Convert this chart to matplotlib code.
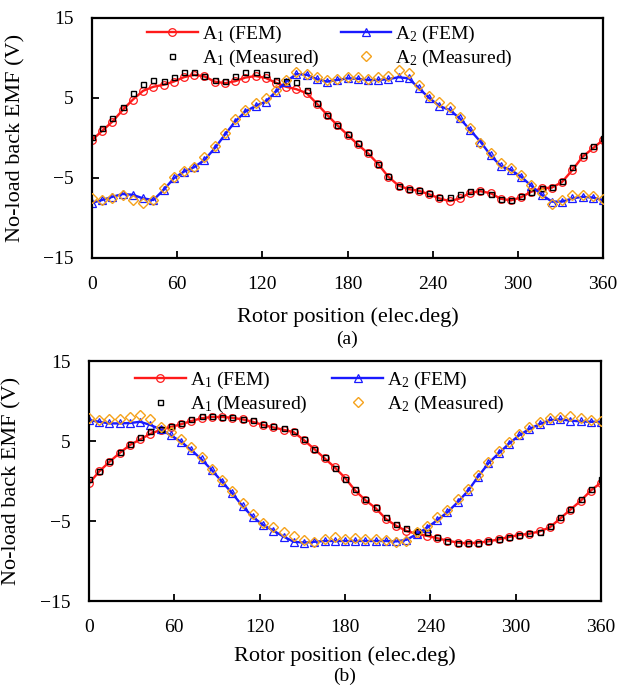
import numpy as np
import matplotlib
matplotlib.use("Agg")
import matplotlib.pyplot as plt

plt.rcParams["font.family"] = ["Liberation Serif", "DejaVu Serif"]
plt.rcParams["mathtext.fontset"] = "custom"
plt.rcParams["mathtext.rm"] = "Liberation Serif"
plt.rcParams["mathtext.it"] = "Liberation Serif:italic"

# Rotor position samples (elec. deg)
angle = np.linspace(0, 360, 51)

# ---- (a) back EMF, phase A1 / A2 ----
a_A1_fem = [-0.25, 0.9, 2.05, 3.5, 4.8, 5.9, 6.4, 6.65, 7.05, 7.6, 7.9, 7.7, 7.05,
            6.85, 7.1, 7.55, 7.75, 7.5, 6.9, 6.4, 6.1, 5.6, 4.3, 2.9, 1.6, 0.4,
            -0.8, -1.9, -3.25, -4.85, -5.95, -6.4, -6.6, -7.05, -7.55, -7.9, -7.55,
            -6.85, -6.65, -6.9, -7.6, -7.8, -7.4, -6.7, -6.3, -6.2, -5.5, -4.0,
            -2.35, -1.3, -0.25]
a_A1_meas = [0.1, 1.2, 2.5, 3.9, 5.6, 6.7, 7.2, 7.15, 7.6, 8.3, 8.3, 7.7, 7.3,
             7.15, 7.7, 8.3, 8.3, 8.0, 7.3, 7.15, 7.05, 6.0, 4.35, 2.9, 1.6, 0.45,
             -0.65, -1.8, -3.2, -4.75, -6.0, -6.35, -6.5, -6.85, -7.4, -7.4, -7.0,
             -6.6, -6.6, -7.0, -7.65, -7.75, -7.3, -6.7, -6.2, -6.1, -5.4, -3.6,
             -2.15, -1.0, 0.05]
a_A2_fem = [-8.1, -7.75, -7.35, -7.0, -7.1, -7.55, -7.75, -6.5, -5.05, -4.2, -3.65,
            -2.75, -1.3, 0.4, 2.05, 3.3, 4.0, 4.55, 5.8, 7.05, 8.0, 7.9, 7.35, 7.05,
            7.25, 7.45, 7.4, 7.25, 7.25, 7.35, 7.6, 7.45, 6.2, 5.0, 4.0, 3.5, 2.45,
            1.0, -0.45, -2.15, -3.5, -4.0, -4.85, -6.0, -7.1, -7.95, -7.95, -7.55,
            -7.35, -7.45, -7.75]
a_A2_meas = [-7.55, -7.75, -7.45, -7.1, -7.75, -8.1, -7.75, -6.2, -4.9, -4.1, -3.6,
             -2.35, -1.0, 0.6, 2.35, 3.5, 4.35, 5.0, 6.0, 7.25, 8.2, 8.0, 7.6, 7.25,
             7.35, 7.6, 7.6, 7.4, 7.6, 7.75, 8.5, 8.1, 6.65, 5.25, 4.55, 3.85, 2.65,
             1.2, -0.6, -1.9, -3.15, -3.8, -4.65, -5.9, -6.9, -8.2, -7.75, -7.1,
             -7.1, -7.25, -7.65]

# ---- (b) back EMF, phase A1 / A2 ----
b_A1_fem = [-0.3, 1.2, 2.4, 3.5, 4.5, 5.2, 5.9, 6.4, 6.75, 7.1, 7.5, 7.85, 8.0,
            8.0, 7.9, 7.7, 7.4, 7.0, 6.7, 6.4, 6.1, 5.1, 4.0, 2.85, 1.7, 0.4,
            -1.2, -2.4, -3.4, -4.75, -5.6, -6.25, -6.6, -6.85, -7.15, -7.45, -7.7,
            -7.8, -7.7, -7.55, -7.3, -7.0, -6.75, -6.6, -6.3, -5.8, -4.7, -3.6,
            -2.5, -1.2, -0.2]
b_A1_meas = [0.2, 1.3, 2.5, 3.6, 4.6, 5.5, 6.2, 6.5, 6.9, 7.3, 7.7, 8.15, 8.1,
             8.05, 8.0, 7.8, 7.6, 7.1, 6.85, 6.6, 6.2, 5.2, 4.0, 2.95, 1.6, 0.2,
             -1.0, -2.3, -3.2, -4.5, -5.4, -5.9, -6.2, -6.35, -7.0, -7.55, -7.75,
             -7.75, -7.7, -7.5, -7.2, -7.0, -6.7, -6.55, -6.35, -5.6, -4.5, -3.5,
             -2.3, -1.0, 0.2]
b_A2_fem = [7.6, 7.4, 7.2, 7.2, 7.25, 7.4, 7.0, 6.45, 5.7, 4.9, 3.85, 2.7, 1.35,
            -0.1, -1.55, -3.15, -4.5, -5.5, -6.2, -6.95, -7.6, -7.7, -7.6, -7.5,
            -7.5, -7.5, -7.5, -7.5, -7.5, -7.5, -7.55, -7.35, -6.65, -5.85, -4.9,
            -3.9, -2.65, -1.25, 0.55, 2.2, 3.45, 4.65, 5.7, 6.5, 7.1, 7.6, 7.7,
            7.55, 7.45, 7.4, 7.4]
b_A2_meas = [7.9, 7.6, 7.7, 7.75, 8.0, 8.2, 7.8, 6.7, 6.15, 5.3, 4.2, 2.95, 1.45,
             0.1, -1.2, -2.75, -4.15, -5.2, -5.8, -6.35, -6.9, -7.4, -7.6, -7.2,
             -7.05, -7.2, -7.1, -7.2, -7.3, -7.35, -7.6, -7.45, -6.4, -5.6, -4.55,
             -3.6, -2.3, -0.95, 0.8, 2.4, 3.7, 4.85, 5.9, 6.7, 7.35, 7.85, 8.05,
             8.1, 7.9, 7.6, 7.45]

x_ticks = [0, 60, 120, 180, 240, 300, 360]
y_ticks = [-15, -5, 5, 15]
x_label = "Rotor position (elec.deg)"
y_label = "No-load back EMF (V)"

RED = "#ff1a1a"
BLUE = "#1a1aff"
ORANGE = "#f5a21b"

fig = plt.figure(figsize=(6.2, 6.86), dpi=100)
ax_a = fig.add_axes([92 / 620, 1 - 258 / 686, 511 / 620, 240 / 686])
ax_b = fig.add_axes([89 / 620, 1 - 601 / 686, 512 / 620, 240 / 686])


def draw_panel(ax, a1_fem, a1_meas, a2_fem, a2_meas, leg_anchor, colspace, xpad):
    l1, = ax.plot(angle, a1_fem, color=RED, lw=1.7, marker="o", ms=5.5,
                  mfc="none", mec=RED, mew=0.9, label=r"A$_1$ (FEM)", zorder=2)
    l2, = ax.plot(angle, a2_fem, color=BLUE, lw=1.7, marker="^", ms=6,
                  mfc="none", mec=BLUE, mew=0.9, label=r"A$_2$ (FEM)", zorder=2)
    m1, = ax.plot(angle, a1_meas, ls="none", marker="s", ms=3.6, mfc="none",
                  mec="black", mew=1.0, label=r"A$_1$ (Measured)", zorder=3)
    m2, = ax.plot(angle, a2_meas, ls="none", marker="D", ms=4.6, mfc="none",
                  mec=ORANGE, mew=1.0, label=r"A$_2$ (Measured)", zorder=3)
    ax.set_xlim(0, 360)
    ax.set_ylim(-15, 15)
    ax.set_xticks(x_ticks)
    ax.set_yticks(y_ticks)
    ax.tick_params(direction="in", length=5, width=1.3, labelsize=14,
                   top=False, right=False)
    ax.tick_params(axis="x", pad=13)
    ax.tick_params(axis="y", pad=13)
    for s in ax.spines.values():
        s.set_linewidth(1.6)
    ax.set_xlabel(x_label, fontsize=16, labelpad=xpad)
    ax.set_ylabel(y_label, fontsize=16)
    ax.yaxis.set_label_coords(-0.131, 0.5)
    ax.legend(handles=[l1, m1, l2, m2], ncol=2, loc="upper left",
              bbox_to_anchor=leg_anchor, frameon=False, fontsize=14,
              borderpad=0, borderaxespad=0, handlelength=2.6,
              handletextpad=0.2, columnspacing=colspace, labelspacing=0.15)


draw_panel(ax_a, a_A1_fem, a_A1_meas, a2_fem=a_A2_fem, a2_meas=a_A2_meas,
           leg_anchor=(0.108, 0.975), colspace=1.1, xpad=10)
draw_panel(ax_b, b_A1_fem, b_A1_meas, a2_fem=b_A2_fem, a2_meas=b_A2_meas,
           leg_anchor=(0.09, 0.965), colspace=1.3, xpad=7)

fig.text(347 / 620, 1 - 339 / 686, "(a)", ha="center", va="center", fontsize=14)
fig.text(345 / 620, 1 - 676 / 686, "(b)", ha="center", va="center", fontsize=14)

fig.savefig("out.png", dpi=100)
